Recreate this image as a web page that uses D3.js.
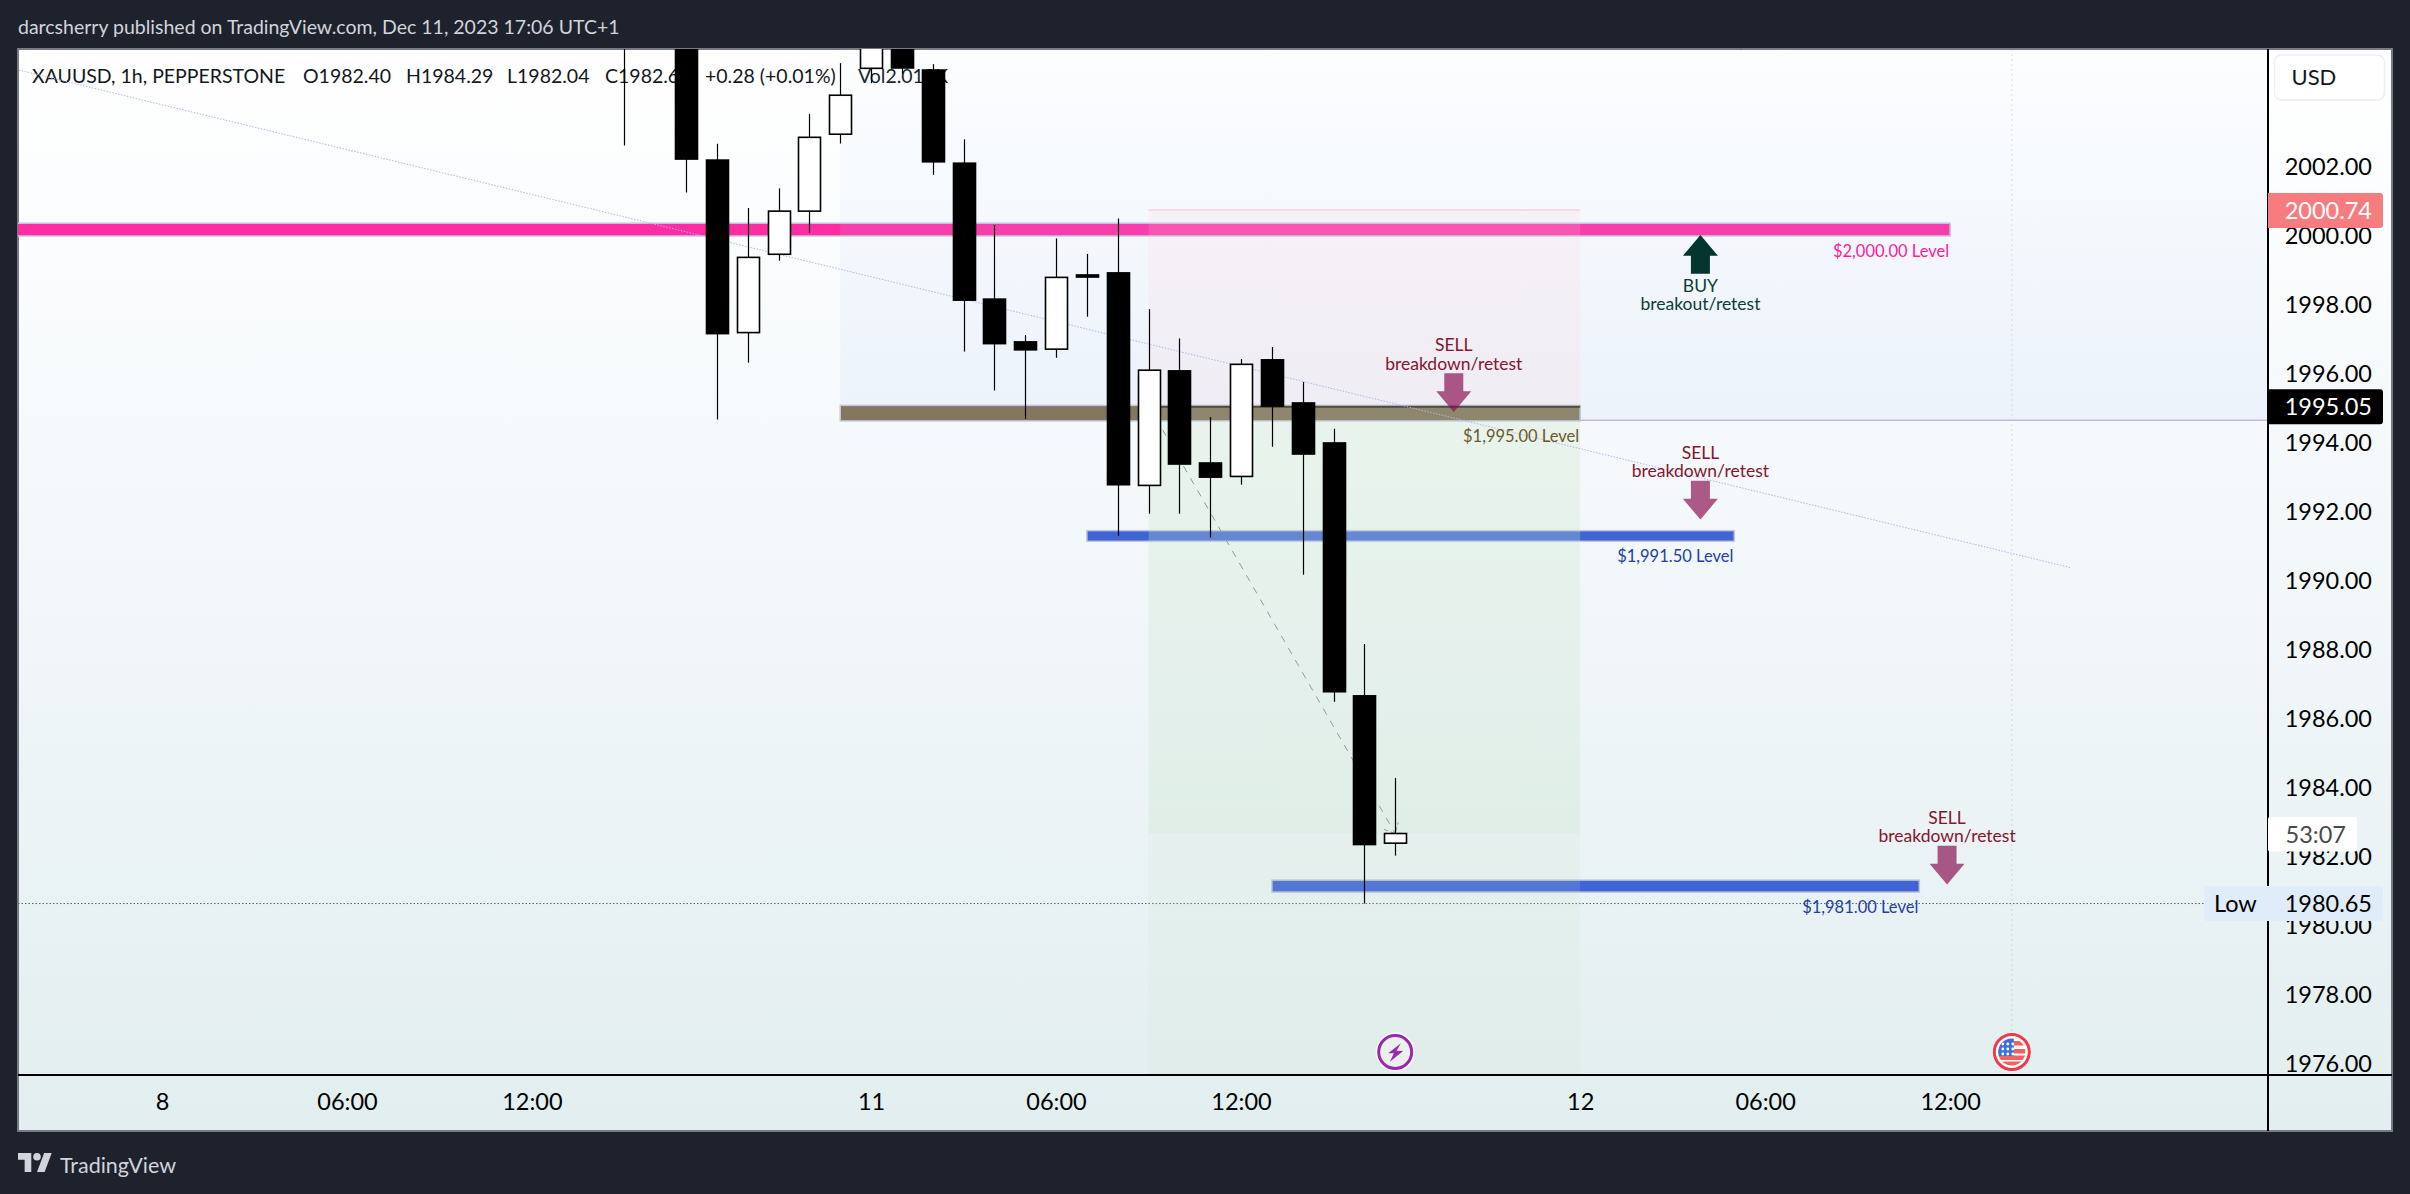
<!DOCTYPE html>
<html>
<head>
<meta charset="utf-8">
<script src="https://cdn.jsdelivr.net/npm/d3@7/dist/d3.min.js"></script>
<style>
  html, body { margin: 0; padding: 0; background: #1e222d; overflow: hidden; }
  svg { display: block; }
  text { font-family: Lato, "Open Sans", sans-serif; }
</style>
</head>
<body>
<svg id="chart" width="2410" height="1194"></svg>
<script>
// hourly bars, index 0 is the "8" tick on the time axis
const barIndex = [15, 17, 18, 19, 20, 21, 22, 23, 24, 25, 26, 27, 28, 29, 30, 31, 32, 33, 34, 35, 36, 37, 38, 39, 40];
const opens  = [2009.0, 2009.0, 2002.20, 1997.20, 1999.47, 2000.72, 2002.95, 2004.86, 2006.40, 2004.81, 2002.11, 1998.17, 1996.93, 1996.72, 1998.87, 1998.93, 1992.77, 1996.09, 1993.42, 1993.03, 1996.41, 1995.16, 1994.00, 1986.67, 1982.40];
const highs  = [2011.0, 2010.0, 2002.67, 2000.81, 2001.38, 2003.54, 2005.01, 2007.00, 2007.00, 2004.98, 2002.80, 2000.32, 1997.13, 1999.93, 1999.48, 2000.51, 1997.88, 1997.03, 1994.75, 1996.43, 1996.78, 1995.77, 1994.41, 1988.17, 1984.29];
const lows   = [2002.62, 2001.26, 1994.68, 1996.33, 1999.28, 2000.10, 2002.68, 2004.43, 2004.70, 2001.77, 1996.65, 1995.52, 1994.70, 1996.47, 1997.66, 1991.31, 1991.95, 1991.95, 1991.26, 1992.79, 1993.89, 1990.18, 1986.50, 1980.65, 1982.04];
const closes = [2008.0, 2002.23, 1997.17, 1999.38, 2000.72, 2002.86, 2004.08, 2006.20, 2004.87, 2002.15, 1998.14, 1996.88, 1996.70, 1998.80, 1998.81, 1992.79, 1996.11, 1993.39, 1993.01, 1996.28, 1995.07, 1993.68, 1986.79, 1982.36, 1982.68];

const priceTicks = [2002, 2000, 1998, 1996, 1994, 1992, 1990, 1988, 1986, 1984, 1982, 1980, 1978, 1976];
const timeTicks = [0, 6, 12, 23, 29, 35, 46, 52, 58];
const timeLabels = ["8", "06:00", "12:00", "11", "06:00", "12:00", "12", "06:00", "12:00"];

const levelNames = ["$2,000.00 Level", "$1,995.00 Level", "$1,991.50 Level", "$1,981.00 Level"];
const levelTops = [2000.37, 1995.09, 1991.46, 1981.33];
const levelBottoms = [2000.0, 1994.64, 1991.15, 1980.98];
const levelStarts = [-5, 22, 30, 36];
const levelEnds = [58, 46, 51, 57];
const levelFills = ["#ff2da3", "#7a6340", "#3e64d6", "#3e64d6"];
const levelInk = ["#ff1a9e", "#6b5a2a", "#1f3fa3", "#1f3fa3"];

const sellIndex = [41.9, 49.9, 57.9 - 0.0];
const sellTips = [1994.90, 1991.78, 1981.20];

const legendParts = ["XAUUSD, 1h, PEPPERSTONE", "O1982.40", "H1984.29", "L1982.04", "C1982.68", "+0.28 (+0.01%)", "Vol2.018K"];
const legendX = [32, 303, 406, 507, 605, 705, 858];

const W = 2410, H = 1194;
const frame = { left: 18, right: 2392, top: 49, bottom: 1131 };
const axisX = 2268, axisY = 1075;

const x = d3.scaleLinear().domain([-4.67, 68.31]).range([frame.left, axisX]);
const y = d3.scaleLinear().domain([2005.42, 1975.68]).range([frame.top, axisY]);

const svg = d3.select("#chart");
const defs = svg.append("defs");

function gradient(id, stops) {
  const g = defs.append("linearGradient").attr("id", id).attr("x1", 0).attr("x2", 0).attr("y1", 0).attr("y2", 1);
  stops.forEach(s => g.append("stop").attr("offset", s[0]).attr("stop-color", s[1]).attr("stop-opacity", s[2]));
}
gradient("paneBg", [[0, "#ffffff", 1], [0.5, "#f2f7fa", 1], [1, "#e2eeef", 1]]);
gradient("blueTint", [[0, "#bbd2fa", 0.04], [1, "#bbd2fa", 0.17]]);
defs.append("clipPath").attr("id", "plotClip").append("rect")
  .attr("x", frame.left).attr("y", frame.top).attr("width", axisX - frame.left).attr("height", axisY - frame.top);

// page and pane
svg.append("rect").attr("width", W).attr("height", H).attr("fill", "#1e222d");
svg.append("rect").attr("x", frame.left).attr("y", frame.top)
  .attr("width", frame.right - frame.left).attr("height", frame.bottom - frame.top)
  .attr("fill", "url(#paneBg)").attr("stroke", "#787b86").attr("stroke-width", 2);

svg.append("text").attr("x", 18).attr("y", 27).attr("dy", "0.35em")
  .attr("font-size", 19.5).attr("fill", "#d1d4dc")
  .text("darcsherry published on TradingView.com, Dec 11, 2023 17:06 UTC+1");

const plot = svg.append("g").attr("clip-path", "url(#plotClip)");

// legend sits under the candles
plot.selectAll("text.legend").data(legendParts).join("text")
  .attr("class", "legend")
  .attr("x", (d, i) => legendX[i]).attr("y", 76).attr("dy", "0.35em")
  .attr("font-size", 19.5).attr("fill", "#131722")
  .text(d => d);

// low of the session
plot.append("line").attr("x1", frame.left).attr("x2", 2204)
  .attr("y1", y(1980.65)).attr("y2", y(1980.65))
  .attr("stroke", "#5d6066").attr("stroke-width", 1).attr("stroke-dasharray", "1.5 2");

plot.append("line").attr("x1", x(60)).attr("x2", x(60)).attr("y1", frame.top).attr("y2", 1033)
  .attr("stroke", "#8b97a3").attr("stroke-opacity", 0.3).attr("stroke-dasharray", "2 3");

// horizontal levels
plot.selectAll("rect.level").data(levelNames).join("rect")
  .attr("class", "level")
  .attr("x", (d, i) => x(levelStarts[i]))
  .attr("y", (d, i) => y(levelTops[i]))
  .attr("width", (d, i) => x(levelEnds[i]) - x(levelStarts[i]))
  .attr("height", (d, i) => y(levelBottoms[i]) - y(levelTops[i]))
  .attr("fill", (d, i) => levelFills[i])
  .attr("stroke", "#c3c6d8").attr("stroke-width", 1.5);

// tints on top of the levels
plot.append("rect").attr("x", x(22)).attr("y", frame.top)
  .attr("width", axisX - x(22)).attr("height", y(1994.66) - frame.top)
  .attr("fill", "url(#blueTint)");
plot.append("line").attr("x1", x(46)).attr("x2", axisX).attr("y1", y(1994.66)).attr("y2", y(1994.66))
  .attr("stroke", "#c3b5e8").attr("stroke-width", 1.5);

// long/short position box
const posStart = x(32), posEnd = x(46);
plot.append("rect").attr("x", posStart).attr("y", y(2000.75)).attr("width", posEnd - posStart)
  .attr("height", y(1995.09) - y(2000.75)).attr("fill", "#ffcdd2").attr("fill-opacity", 0.16);
plot.append("line").attr("x1", posStart).attr("x2", posEnd).attr("y1", y(2000.75)).attr("y2", y(2000.75))
  .attr("stroke", "#f9c9d4").attr("stroke-opacity", 0.6).attr("stroke-width", 2);
plot.append("rect").attr("x", posStart).attr("y", y(1995.09)).attr("width", posEnd - posStart)
  .attr("height", axisY - y(1995.09)).attr("fill", "#c8e6c9").attr("fill-opacity", 0.15);
plot.append("rect").attr("x", posStart).attr("y", y(1994.64)).attr("width", posEnd - posStart)
  .attr("height", y(1982.68) - y(1994.64)).attr("fill", "#c8e6c9").attr("fill-opacity", 0.15);
plot.append("line").attr("x1", posStart).attr("x2", posEnd).attr("y1", y(1995.05)).attr("y2", y(1995.05))
  .attr("stroke", "#2b2a20").attr("stroke-opacity", 0.65).attr("stroke-width", 2);

// thin trend line and the dashed projection
plot.append("line")
  .attr("x1", x(-4.64)).attr("y1", y(2004.81)).attr("x2", x(61.89)).attr("y2", y(1990.39))
  .attr("stroke", "#aeb9e6").attr("stroke-width", 1).attr("stroke-dasharray", "1.5 1.5");
const projection = plot.append("g").attr("stroke", "#8c9c9a").attr("fill", "none");
projection.append("line")
  .attr("x1", x(32)).attr("y1", y(1995.09)).attr("x2", x(40)).attr("y2", y(1982.68))
  .attr("stroke-dasharray", "7 7");
projection.append("path")
  .attr("d", `M${x(40) - 11},${y(1982.68) - 4}L${x(40)},${y(1982.68)}L${x(40) + 3},${y(1982.68) - 11}`)
  .attr("stroke-dasharray", "4 3");

// candles
const bars = barIndex.map((d, i) => ({ i: d, o: opens[i], h: highs[i], l: lows[i], c: closes[i] }));
const bodyW = 22;
const candle = plot.selectAll("g.candle").data(bars).join("g").attr("class", "candle");
candle.append("line")
  .attr("x1", d => Math.round(x(d.i)) + 0.5).attr("x2", d => Math.round(x(d.i)) + 0.5)
  .attr("y1", d => y(d.h)).attr("y2", d => y(d.l))
  .attr("stroke", "#000").attr("stroke-width", 1.2);
candle.append("rect")
  .attr("x", d => Math.round(x(d.i)) + 0.5 - bodyW / 2)
  .attr("y", d => y(Math.max(d.o, d.c)))
  .attr("width", bodyW)
  .attr("height", d => Math.abs(y(d.o) - y(d.c)))
  .attr("fill", d => d.c >= d.o ? "#fff" : "#000")
  .attr("stroke", "#000").attr("stroke-width", 1.6);

// level captions
plot.selectAll("text.level-name").data(levelNames).join("text")
  .attr("class", "level-name")
  .attr("x", (d, i) => x(levelEnds[i]) - 1)
  .attr("y", (d, i) => y(levelBottoms[i]) + 15)
  .attr("dy", "0.35em").attr("text-anchor", "end")
  .attr("font-size", 16.5).attr("fill", (d, i) => levelInk[i])
  .text(d => d);

// arrows, drawn in pixels from the tip
function arrowPath(dir) {
  return `M0,0L${-17.5},${-20.7 * dir}L${-9.5},${-20.7 * dir}L${-9.5},${-38.7 * dir}L9.5,${-38.7 * dir}L9.5,${-20.7 * dir}L17.5,${-20.7 * dir}Z`;
}
sellIndex.forEach((d, i) => {
  const g = plot.append("g").attr("transform", `translate(${x(d)},${y(sellTips[i])})`);
  g.append("path").attr("d", arrowPath(1)).attr("fill", "#880e4f").attr("fill-opacity", 0.68);
  g.append("text").attr("y", -67).attr("dy", "0.35em").attr("text-anchor", "middle")
    .attr("font-size", 17.5).attr("fill", "#85152f").text("SELL");
  g.append("text").attr("y", -48.4).attr("dy", "0.35em").attr("text-anchor", "middle")
    .attr("font-size", 17.5).attr("fill", "#85152f").text("breakdown/retest");
});
const buyArrow = plot.append("g").attr("transform", `translate(${x(49.9)},${y(2000.03)})`);
buyArrow.append("path").attr("d", arrowPath(-1)).attr("fill", "#04352e");
buyArrow.append("text").attr("y", 50.7).attr("dy", "0.35em").attr("text-anchor", "middle")
  .attr("font-size", 17.5).attr("fill", "#0c3d36").text("BUY");
buyArrow.append("text").attr("y", 69.3).attr("dy", "0.35em").attr("text-anchor", "middle")
  .attr("font-size", 17.5).attr("fill", "#0c3d36").text("breakout/retest");
// another label whose arrow is above the visible range
plot.append("text").attr("x", x(50.9)).attr("y", 43).attr("dy", "0.35em").attr("text-anchor", "middle")
  .attr("font-size", 17.5).attr("fill", "#0c3d36").text("breakout/retest");

// event markers
const bolt = svg.append("g").attr("transform", `translate(${x(40)},1052)`);
bolt.append("circle").attr("r", 19.5).attr("fill", "#fff");
bolt.append("circle").attr("r", 16.5).attr("fill", "#e8f1ec").attr("stroke", "#9c27b0").attr("stroke-width", 3);
bolt.append("path").attr("d", "M5.7,-8.7L-7,1.3L-1.3,1.3L-5.3,9.7L8,-1L1.3,-1.3Z").attr("fill", "#9c27b0");

const flag = svg.append("g").attr("transform", `translate(${x(60)},1052)`);
flag.append("circle").attr("r", 19.5).attr("fill", "#fff");
flag.append("circle").attr("r", 17.5).attr("fill", "#fff").attr("stroke", "#ee3a4a").attr("stroke-width", 3);
defs.append("clipPath").attr("id", "flagClip").append("circle").attr("r", 13.5);
const flagInner = flag.append("g").attr("clip-path", "url(#flagClip)");
flagInner.append("rect").attr("x", -14).attr("y", -14).attr("width", 28).attr("height", 28).attr("fill", "#fff");
[-11, -3, 3.5, 9.5].forEach(t => flagInner.append("rect")
  .attr("x", -14).attr("y", t).attr("width", 28).attr("height", 4.5).attr("fill", "#f5605d"));
flagInner.append("rect").attr("x", -14).attr("y", -14).attr("width", 16).attr("height", 18).attr("fill", "#3a72d8");
[[-9, -8], [-4, -8], [1, -8], [-9, -3], [-4, -3], [1, -3], [-9, 2], [-4, 2], [1, 2]].forEach(p =>
  flagInner.append("circle").attr("cx", p[0]).attr("cy", p[1]).attr("r", 1.4).attr("fill", "#fff"));

// axes
const yAxis = svg.append("g").attr("transform", `translate(${axisX},0)`)
  .call(d3.axisRight(y).tickValues(priceTicks).tickSize(0).tickFormat(d3.format(".2f")));
yAxis.select(".domain").remove();
yAxis.selectAll("text").attr("x", 104).attr("text-anchor", "end")
  .style("font-family", "Lato, sans-serif").style("font-size", "23.5px").attr("fill", "#000");

const xAxis = svg.append("g").attr("transform", `translate(0,${axisY})`)
  .call(d3.axisBottom(x).tickValues(timeTicks).tickSize(0).tickFormat((d, i) => timeLabels[i]));
xAxis.select(".domain").remove();
xAxis.selectAll("text").attr("y", 27).attr("dy", "0.35em")
  .style("font-family", "Lato, sans-serif").style("font-size", "23.5px").attr("fill", "#000");

svg.append("line").attr("x1", axisX).attr("x2", axisX).attr("y1", frame.top).attr("y2", frame.bottom)
  .attr("stroke", "#000").attr("stroke-width", 2);
svg.append("line").attr("x1", frame.left).attr("x2", frame.right).attr("y1", axisY).attr("y2", axisY)
  .attr("stroke", "#000").attr("stroke-width", 2);

// scale badges
function badge(price, right, fill, label, ink) {
  const cy = y(price);
  svg.append("path")
    .attr("d", `M${axisX},${cy - 17.5}H${right - 3}q3,0 3,3V${cy + 14.5}q0,3 -3,3H${axisX}Z`)
    .attr("fill", fill);
  svg.append("text").attr("x", 2372).attr("y", cy).attr("dy", "0.35em").attr("text-anchor", "end")
    .attr("font-size", 23.5).attr("fill", ink).text(label);
}
badge(2000.74, 2383, "#f77c80", "2000.74", "#fff");
badge(1995.05, 2383, "#000", "1995.05", "#fff");

svg.append("rect").attr("x", axisX).attr("y", 817).attr("width", 89).attr("height", 34.5).attr("rx", 2).attr("fill", "#fff");
svg.append("text").attr("x", 2285.5).attr("y", 835).attr("dy", "0.35em")
  .attr("font-size", 23.5).attr("fill", "#4a4a4a").text("53:07");

svg.append("rect").attr("x", 2204).attr("y", y(1980.65) - 17.5).attr("width", 179).attr("height", 35).attr("rx", 2).attr("fill", "#e1ecfb");
svg.append("text").attr("x", 2214).attr("y", y(1980.65)).attr("dy", "0.35em")
  .attr("font-size", 23.5).attr("fill", "#000").text("Low");
svg.append("text").attr("x", 2372).attr("y", y(1980.65)).attr("dy", "0.35em").attr("text-anchor", "end")
  .attr("font-size", 23.5).attr("fill", "#000").text("1980.65");

svg.append("rect").attr("x", 2274.5).attr("y", 55).attr("width", 110).attr("height", 45).attr("rx", 7)
  .attr("fill", "#fff").attr("stroke", "#eceef3").attr("stroke-width", 1.5);
svg.append("text").attr("x", 2291.5).attr("y", 77).attr("dy", "0.35em")
  .attr("font-size", 22).attr("fill", "#131722").text("USD");

// footer logo
const logo = svg.append("g").attr("transform", "translate(18,1153) scale(0.95)").attr("fill", "#d1d4dc");
logo.append("path").attr("d", "M14 20H7V7H0V0h14v20zM28 20h-8l7.5-20h8L28 20z");
logo.append("circle").attr("cx", 20).attr("cy", 4).attr("r", 4);
svg.append("text").attr("x", 60).attr("y", 1165).attr("dy", "0.35em")
  .attr("font-size", 21.5).attr("fill", "#d1d4dc").text("TradingView");
</script>
</body>
</html>
